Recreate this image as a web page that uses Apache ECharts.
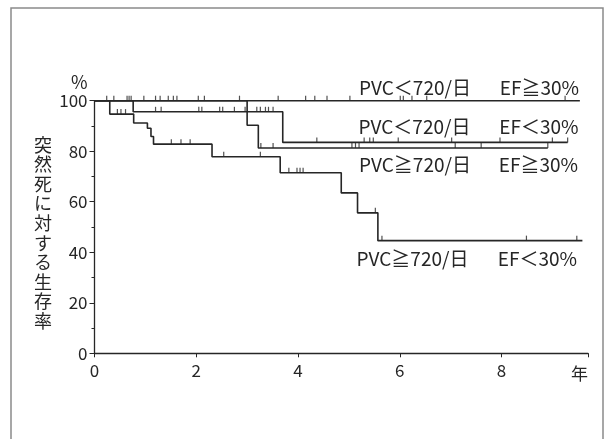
<!DOCTYPE html>
<html><head><meta charset="utf-8">
<script src="https://cdn.jsdelivr.net/npm/echarts@6/dist/echarts.min.js"></script>
<style>html,body{margin:0;padding:0;background:#fff}#c{width:611px;height:439px}</style>
</head><body><div id="c"></div>
<script>
// x: years, y: survival (%)
const xTicks = [0, 2, 4, 6, 8];
const yTicks = [0, 20, 40, 60, 80, 100];

// PVC<720/日 EF≧30%
const aTimes = [0, 9.54];
const aVals  = [100, 100];
const aCens  = [0.24, 0.38, 0.64, 0.68, 0.72, 0.97, 1.20, 1.29, 1.45, 1.55, 1.62, 2.04, 2.16, 2.85, 3.61, 4.15, 4.33, 4.57, 5.02, 6.01, 6.07, 6.24, 6.53, 9.25];
// PVC<720/日 EF<30%
const bTimes = [0, 0.76, 3.70, 9.30];
const bVals  = [100, 95.6, 83.5, 83.5];
const bCens  = [1.20, 1.31, 2.05, 2.11, 2.46, 2.52, 2.75, 2.96, 3.19, 3.26, 3.36, 3.42, 3.51, 4.37, 5.30, 5.41, 5.48, 5.97, 7.02, 7.97, 9.00, 9.30];
// PVC≧720/日 EF≧30%
const cTimes = [0, 3.00, 3.22, 8.91];
const cVals  = [100, 90.3, 81.3, 81.3];
const cCens  = [3.27, 3.51, 5.06, 5.13, 5.20, 7.09, 7.60, 8.91];
// PVC≧720/日 EF<30%
const dTimes = [0, 0.30, 0.77, 1.04, 1.11, 1.16, 2.31, 3.65, 4.85, 5.17, 5.57, 9.59];
const dVals  = [100, 94.7, 91.2, 89.1, 85.8, 82.8, 77.8, 71.5, 63.5, 55.6, 44.6, 44.6];
const dCens  = [0.45, 0.52, 0.61, 1.51, 1.70, 1.88, 2.54, 3.26, 3.82, 3.98, 4.04, 4.10, 5.52, 5.65, 8.49, 9.48];

const labelLeft  = ['PVC＜720/日', 'PVC＜720/日', 'PVC≧720/日', 'PVC≧720/日'];
const labelRight = ['EF≧30%', 'EF＜30%', 'EF≧30%', 'EF＜30%'];
const yTitle = '突然死に対する生存率';

const FONT = '"Noto Sans CJK JP", "Noto Sans", sans-serif';
const INK = '#262626';

function survAt(times, vals, t) {
  let v = vals[0];
  for (let i = 0; i < times.length; i++) if (times[i] <= t + 1e-9) v = vals[i];
  return v;
}
function curve(times, vals) {
  return {
    type: 'line', step: 'end', showSymbol: false, silent: true,
    lineStyle: { color: INK, width: 1.6 },
    data: times.map((t, i) => [t, vals[i]])
  };
}
function cens(times, vals, cs) {
  return {
    type: 'scatter', silent: true,
    symbol: 'rect', symbolSize: [1.2, 5], symbolOffset: [0, -2.5],
    itemStyle: { color: INK },
    data: cs.map(t => [t, survAt(times, vals, t)])
  };
}

const chart = echarts.init(document.getElementById('c'));
const labY = [87.5, 127, 165, 259];
const labXL = [359, 358.5, 359, 356.5];
const labXR = [579, 578.5, 578, 577];
const graphics = [
  { type: 'rect', shape: { x: 11, y: 8, width: 592, height: 445 }, style: { fill: 'none', stroke: '#8a8a8a', lineWidth: 1.5 } },
  { type: 'text', left: 34, top: 135, style: { text: yTitle.split('').join('\n'), font: '18px ' + FONT, fill: INK, lineHeight: 19.6, textAlign: 'left' } }
];
for (let i = 0; i < 4; i++) {
  graphics.push({ type: 'text', x: labXL[i], y: labY[i], style: { text: labelLeft[i], font: '19px ' + FONT, fill: INK, textAlign: 'left', textVerticalAlign: 'middle' } });
  graphics.push({ type: 'text', x: labXR[i], y: labY[i], style: { text: labelRight[i], font: '19px ' + FONT, fill: INK, textAlign: 'right', textVerticalAlign: 'middle' } });
}

chart.setOption({
  animation: false,
  backgroundColor: '#ffffff',
  grid: { left: 94.5, right: 23, top: 100.7, bottom: 85.7 },
  xAxis: {
    type: 'value', min: 0, max: 9.7, interval: 2,
    name: '年', nameLocation: 'end', nameGap: 0,
    nameTextStyle: { fontFamily: FONT, fontSize: 17, color: INK, align: 'right', verticalAlign: 'top', padding: [12, 0, 0, 0] },
    axisLine: { lineStyle: { color: INK, width: 1.3 } },
    axisTick: { show: true, length: 4, lineStyle: { color: INK } },
    axisLabel: { fontFamily: FONT, fontSize: 17, color: INK, margin: 9,
      formatter: v => xTicks.includes(v) ? String(v) : '' },
    splitLine: { show: false }
  },
  yAxis: {
    type: 'value', min: 0, max: 100, interval: 20,
    name: '%', nameLocation: 'end', nameGap: 10,
    nameTextStyle: { fontFamily: FONT, fontSize: 18, color: INK, align: 'right', padding: [0, 7, 0, 0] },
    axisLine: { show: true, lineStyle: { color: INK, width: 1.3 } },
    axisTick: { show: true, length: 5, lineStyle: { color: INK } },
    minorTick: { show: true, splitNumber: 2, length: 3, lineStyle: { color: INK } },
    axisLabel: { fontFamily: FONT, fontSize: 17, color: INK, margin: 7,
      formatter: v => yTicks.includes(v) ? String(v) : '' },
    splitLine: { show: false }
  },
  series: [
    curve(aTimes, aVals), curve(bTimes, bVals), curve(cTimes, cVals), curve(dTimes, dVals),
    cens(aTimes, aVals, aCens), cens(bTimes, bVals, bCens), cens(cTimes, cVals, cCens), cens(dTimes, dVals, dCens)
  ],
  graphic: graphics
});
</script>
</body></html>
